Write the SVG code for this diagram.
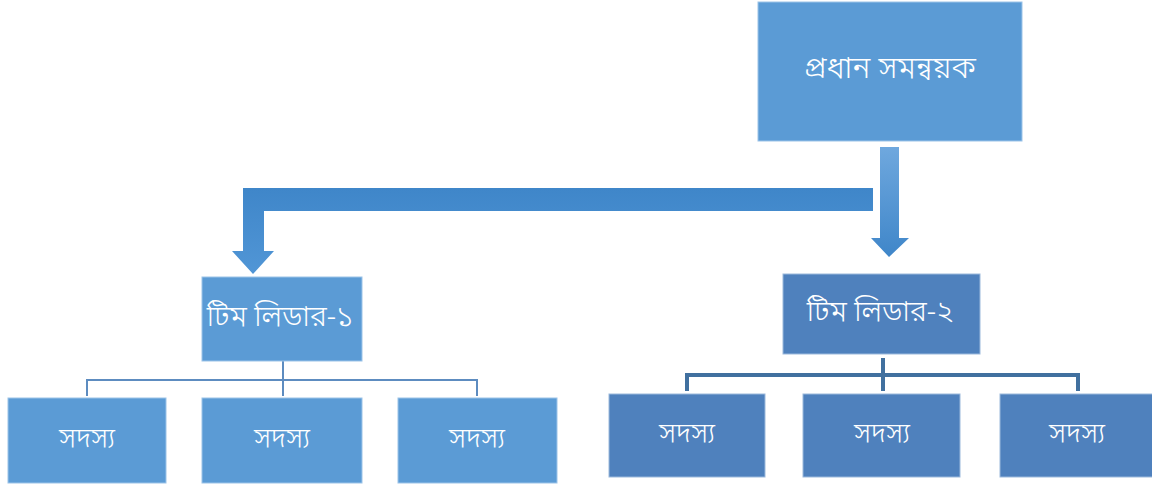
<svg xmlns="http://www.w3.org/2000/svg" width="1152" height="487" viewBox="0 0 1152 487">
  <style>
    .lite { fill: #5b9bd5; stroke: #9cc3e8; stroke-width: 1; }
    .dark { fill: #4f81bd; stroke: #9cb9dc; stroke-width: 1; }
    .lbl { fill: #ffffff; font-family: "Noto Sans Bengali", "Lohit Bengali", "Noto Serif Bengali", "Noto Sans", sans-serif; font-weight: 300; text-anchor: middle; dominant-baseline: central; }
    .thin { fill: none; stroke: #5d8cc0; stroke-width: 2; }
    .thick { fill: none; stroke: #41709f; stroke-width: 4; }
  </style>
  <defs>
    <linearGradient id="barGrad" x1="0" y1="0" x2="0" y2="1">
      <stop offset="0" stop-color="#3f86c9"/>
      <stop offset="1" stop-color="#5196d6"/>
    </linearGradient>
    <linearGradient id="rightShaft" x1="0" y1="0" x2="0" y2="1">
      <stop offset="0" stop-color="#6fa8de"/>
      <stop offset="1" stop-color="#3f86c9"/>
    </linearGradient>
  </defs>

  <!-- connectors -->
  <g id="connectors">
    <!-- bent arrow to team leader 1 -->
    <path d="M873 188 H243 V251 H232 L253 274 L274 251 H264 V211 H873 Z" fill="url(#barGrad)"/>
    <!-- straight arrow to team leader 2 -->
    <path d="M880 147 H899 V238 H909 L889 257 L871 238 H880 Z" fill="url(#rightShaft)"/>
    <!-- team 1 bracket -->
    <path class="thin" d="M283 361 V396"/>
    <path class="thin" d="M87 396 V380 H477 V396"/>
    <!-- team 2 bracket -->
    <path class="thick" d="M883 358 V391"/>
    <path class="thick" d="M687 391 V375 H1078 V391"/>
  </g>

  <g id="coordinator">
    <rect class="lite" x="758" y="2" width="264" height="139"/>
    <text class="lbl" x="890" y="70" font-size="31">প্রধান সমন্বয়ক</text>
  </g>

  <g id="leader1">
    <rect class="lite" x="202" y="277" width="160" height="84"/>
    <text class="lbl" x="280" y="318" font-size="29">টিম লিডার-১</text>
  </g>

  <g id="leader2">
    <rect class="dark" x="783" y="274" width="197" height="80"/>
    <text class="lbl" x="880" y="313" font-size="29">টিম লিডার-২</text>
  </g>

  <g id="member1a">
    <rect class="lite" x="8" y="398" width="158" height="85"/>
    <text class="lbl" x="87" y="439" font-size="28">সদস্য</text>
  </g>
  <g id="member1b">
    <rect class="lite" x="202" y="398" width="160" height="85"/>
    <text class="lbl" x="282" y="439" font-size="28">সদস্য</text>
  </g>
  <g id="member1c">
    <rect class="lite" x="398" y="398" width="159" height="85"/>
    <text class="lbl" x="477" y="439" font-size="28">সদস্য</text>
  </g>

  <g id="member2a">
    <rect class="dark" x="609" y="394" width="156" height="83"/>
    <text class="lbl" x="687" y="434" font-size="28">সদস্য</text>
  </g>
  <g id="member2b">
    <rect class="dark" x="803" y="394" width="157" height="83"/>
    <text class="lbl" x="882" y="434" font-size="28">সদস্য</text>
  </g>
  <g id="member2c">
    <rect class="dark" x="1000" y="394" width="156" height="83"/>
    <text class="lbl" x="1077" y="434" font-size="28">সদস্য</text>
  </g>
</svg>
